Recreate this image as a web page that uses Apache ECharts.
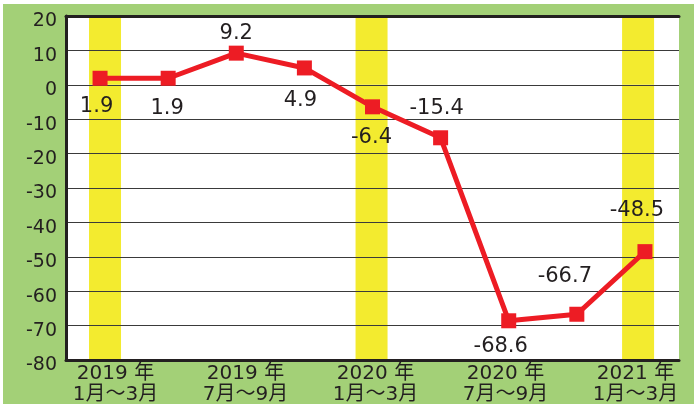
<!DOCTYPE html>
<html>
<head>
<meta charset="utf-8">
<script src="https://cdn.jsdelivr.net/npm/echarts@6/dist/echarts.min.js"></script>
<style>
html,body{margin:0;padding:0;background:#fff;}
#wrap{position:relative;width:694px;height:405px;overflow:hidden;}
#bg{position:absolute;left:3px;top:4px;width:691px;height:400px;background:#a3d077;}
#c{position:absolute;left:0;top:0;width:694px;height:405px;}
</style>
</head>
<body>
<div id="wrap"><div id="bg"></div><div id="c"></div></div>
<script>
// ---- data ----
const categories = ['2019年1月～3月','2019年4月～6月','2019年7月～9月','2019年10月～12月','2020年1月～3月','2020年4月～6月','2020年7月～9月','2020年10月～12月','2021年1月～3月'];
const values = [1.9, 1.9, 9.2, 4.9, -6.4, -15.4, -68.6, -66.7, -48.5];
const highlighted = [true, false, false, false, true, false, false, false, true];
const tickLabels = ['2019 年\n1月～3月', '', '2019 年\n7月～9月', '', '2020 年\n1月～3月', '', '2020 年\n7月～9月', '', '2021 年\n1月～3月'];
const yMin = -80, yMax = 20, yStep = 10;

// ---- styling (label placement relative to each point) ----
const labelOffsets = [[-3.5,28],[-1,30],[0,-19.5],[-4,33],[-1,31],[-4,-29],[-8,25.5],[-12,-38],[-8,-41.5]];

const FONT = "'DejaVu Sans', 'Noto Sans CJK JP', sans-serif";
const TXT = '#231f20';
const RED = '#ed1c24';
const YEL = '#f3eb2f';

const chart = echarts.init(document.getElementById('c'), null, {renderer:'canvas'});

const lineData = values.map((v, i) => ({
  value: v,
  label: {offset: labelOffsets[i]}
}));

const option = {
  animation: false,
  textStyle: {fontFamily: FONT},
  grid: [
    {left: 66, right: 15, top: 16, bottom: 45, show: true, backgroundColor: '#ffffff', borderWidth: 0, z: 0},
    {left: 71.7, right: 22.6, top: 16, bottom: 45, show: false},
    {left: 83, right: 26, top: 16, bottom: 45, show: false},
    {left: 66, right: 15, top: 21.5, bottom: 39.5, show: false}
  ],
  xAxis: [
    {gridIndex: 0, type: 'category', data: categories, boundaryGap: true, position: 'bottom', z: 2,
     axisLine: {show: true, onZero: false, lineStyle: {color: TXT, width: 3}}, axisTick: {show: false}, axisLabel: {show: false}, splitLine: {show: false}},
    {gridIndex: 0, type: 'category', data: categories, boundaryGap: true, position: 'top', z: 2,
     axisLine: {show: true, onZero: false, lineStyle: {color: TXT, width: 3}}, axisTick: {show: false}, axisLabel: {show: false}, splitLine: {show: false}},
    {gridIndex: 1, type: 'category', data: categories, boundaryGap: true, show: false},
    {gridIndex: 2, type: 'category', data: categories, boundaryGap: true,
     axisLine: {show: false, onZero: false}, axisTick: {show: false}, splitLine: {show: false},
     axisLabel: {show: true, interval: 0, margin: 7, color: TXT, fontSize: 20, lineHeight: 21, fontFamily: FONT,
       formatter: (v, i) => tickLabels[i]}},
    {gridIndex: 3, type: 'category', data: categories, show: false}
  ],
  yAxis: [
    {gridIndex: 0, type: 'value', min: yMin, max: yMax, interval: yStep, z: 2,
     axisLine: {show: true, lineStyle: {color: TXT, width: 3}}, axisTick: {show: false},
     axisLabel: {show: false},
     splitLine: {show: true, lineStyle: {color: '#3a3a3a', width: 1.2}}},
    {gridIndex: 1, type: 'value', min: yMin, max: yMax, show: false, splitLine: {show: false}},
    {gridIndex: 2, type: 'value', min: yMin, max: yMax, show: false, splitLine: {show: false}},
    {gridIndex: 3, type: 'value', min: yMin, max: yMax, interval: yStep,
     axisLine: {show: false}, axisTick: {show: false}, splitLine: {show: false},
     axisLabel: {show: true, color: TXT, fontSize: 19, fontFamily: FONT, margin: 9}}
  ],
  series: [
    {type: 'bar', xAxisIndex: 2, yAxisIndex: 1, stack: 'band', barWidth: 32, z: 1, silent: true,
     itemStyle: {color: YEL}, data: highlighted.map(h => h ? yMax : null)},
    {type: 'bar', xAxisIndex: 2, yAxisIndex: 1, stack: 'band', barWidth: 32, z: 1, silent: true,
     itemStyle: {color: YEL}, data: highlighted.map(h => h ? yMin : null)},
    {type: 'line', xAxisIndex: 0, yAxisIndex: 0, z: 3, data: lineData,
     symbol: 'rect', symbolSize: 15,
     lineStyle: {color: RED, width: 5},
     itemStyle: {color: RED},
     label: {show: true, position: 'inside', color: TXT, fontSize: 21, fontFamily: FONT,
       formatter: p => String(p.value)}}
  ]
};
chart.setOption(option);
</script>
</body>
</html>
